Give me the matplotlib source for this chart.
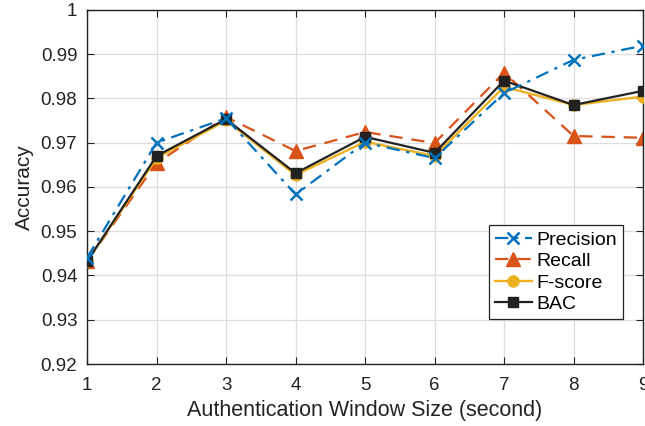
import matplotlib
matplotlib.use("Agg")
import matplotlib.pyplot as plt

window = [1, 2, 3, 4, 5, 6, 7, 8, 9]
precision = [0.9440, 0.9700, 0.9755, 0.9583, 0.9700, 0.9665, 0.9812, 0.9887, 0.9919]
recall = [0.9432, 0.9654, 0.9758, 0.9681, 0.9724, 0.9699, 0.9858, 0.9715, 0.9711]
fscore = [0.9432, 0.9665, 0.9750, 0.9627, 0.9702, 0.9670, 0.9826, 0.9785, 0.9804]
bac = [0.9432, 0.9670, 0.9753, 0.9631, 0.9713, 0.9677, 0.9840, 0.9785, 0.9817]
yticks = [0.92, 0.93, 0.94, 0.95, 0.96, 0.97, 0.98, 0.99, 1.0]
ytick_labels = ["0.92", "0.93", "0.94", "0.95", "0.96", "0.97", "0.98", "0.99", "1"]

plt.rcParams["font.family"] = ["Liberation Sans", "DejaVu Sans"]

fig = plt.figure(figsize=(6.45, 4.26), dpi=100)
ax = fig.add_axes([0.135, 0.1455, 0.862, 0.8315])

ax.plot(window, fscore, color="#EDB120", lw=1.7, marker="o", ms=8, label="F-score", zorder=3)
ax.plot(window, bac, color="#222222", lw=1.6, marker="s", ms=7.5, label="BAC", zorder=4)
ax.plot(window, recall, color="#D95319", lw=1.6, ls=(0, (6, 4)), marker="^", ms=10, label="Recall", zorder=2)
ax.plot(window, precision, color="#0072BD", lw=1.6, ls=(0, (6, 3, 1.5, 3)), marker="x", ms=9, mew=1.8,
        label="Precision", zorder=5)

ax.set_xlim(1, 9)
ax.set_ylim(0.92, 1.0)
ax.set_xticks(window)
ax.set_yticks(yticks)
ax.set_yticklabels(ytick_labels)
ax.grid(True, color="#dddddd", lw=0.9)
ax.set_axisbelow(True)
ax.tick_params(direction="in", top=True, right=True, labelsize=13.5, length=5, color="#222222",
               labelcolor="#222222")
ax.tick_params(axis="x", pad=9)
ax.tick_params(axis="y", pad=7)
for s in ax.spines.values():
    s.set_color("#222222")
    s.set_linewidth(1.0)

ax.set_xlabel("Authentication Window Size (second)", fontsize=15.5, color="#222222", labelpad=5)
ax.set_ylabel("Accuracy", fontsize=15, color="#222222", labelpad=5)

handles, labels = ax.get_legend_handles_labels()
order = [3, 2, 0, 1]
leg = ax.legend([handles[i] for i in order], [labels[i] for i in order],
                loc="lower right", bbox_to_anchor=(0.964, 0.127), borderaxespad=0, fontsize=14,
                handlelength=1.9, handletextpad=0.25, borderpad=0.3, labelspacing=0.2,
                fancybox=False, framealpha=1)
leg.get_frame().set_edgecolor("#222222")
leg.get_frame().set_linewidth(0.9)

fig.savefig("out.png", dpi=100)
